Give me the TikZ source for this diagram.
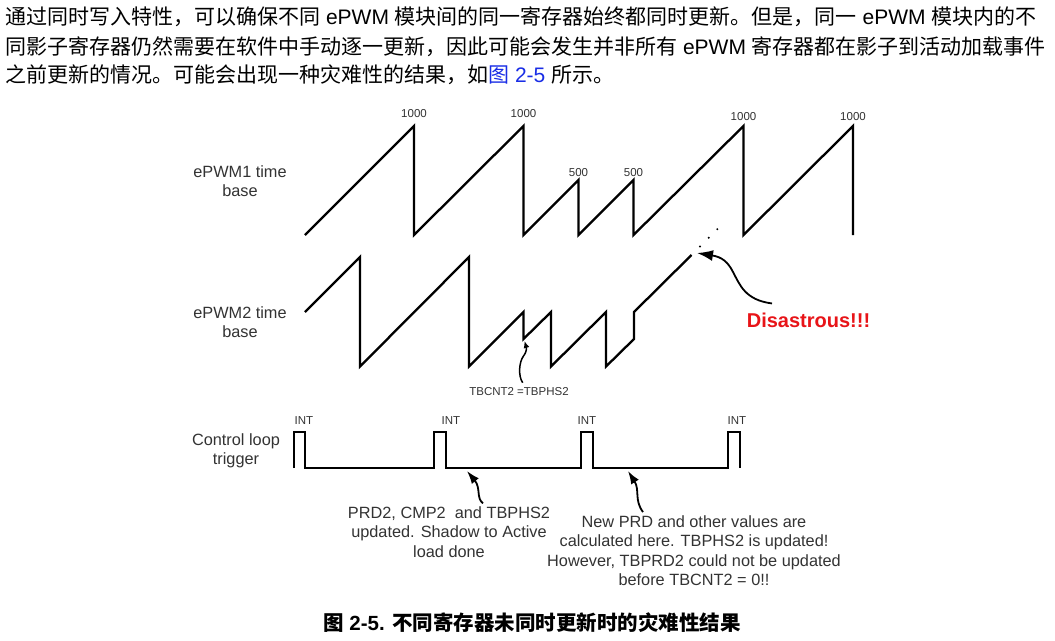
\documentclass[tikz,border=0pt]{standalone}
\usepackage{fontspec}
\setmainfont{Liberation Sans}
\newfontfamily\cjk{Noto Sans CJK SC}
\usetikzlibrary{arrows.meta}
\definecolor{disred}{RGB}{232,20,24}
\definecolor{linkblue}{RGB}{25,45,230}
\begin{document}
\begin{tikzpicture}[x=1pt,y=-1pt,
  body/.style={anchor=west,inner sep=0,font=\fontsize{21}{25}\selectfont},
  wave/.style={line width=2.3pt},
  pulse/.style={line width=2pt},
  lbl/.style={inner sep=0,align=center,font=\fontsize{16.3}{19.5}\selectfont,text=black!80},
  small/.style={inner sep=0,font=\fontsize{11.5}{13}\selectfont,text=black!80},
  arr/.style={line width=1.8pt,-{Latex[length=13pt,width=9pt]}},
  bigarr/.style={line width=1.8pt,-{Latex[length=16pt,width=11pt]}},
  tinyarr/.style={line width=1.5pt,-{Latex[length=7pt,width=6pt]}}]
\useasboundingbox (0,0) rectangle (1055,640);
\fill[white] (0,0) rectangle (1055,640);
% body text
\node[body] (l1) at (5,17) {{\cjk 通过同时写入特性，可以确保不同} ePWM {\cjk 模块间的同一寄存器始终都同时更新。但是，同一} ePWM {\cjk 模块内的不}};
\node[body] (l2) at (5,47) {{\cjk 同影子寄存器仍然需要在软件中手动逐一更新，因此可能会发生并非所有} ePWM {\cjk 寄存器都在影子到活动加载事件}};
\node[body] (l3) at (5,75) {{\cjk 之前更新的情况。可能会出现一种灾难性的结果，如\textcolor{linkblue}{图}} \textcolor{linkblue}{2-5} {\cjk 所示。}};
% ePWM1
\draw[wave] (305,235) -- (414,126) -- (414,235) -- (523.5,126) -- (523.5,235)
  -- (578.5,180) -- (578.5,235) -- (633.5,180) -- (633.5,235)
  -- (743.5,126) -- (743.5,235) -- (853,126) -- (853,235);
\node[small] (p1) at (414,114) {1000};
\node[small] (p2) at (523.5,114) {1000};
\node[small] (p3) at (578.5,173) {500};
\node[small] (p4) at (633.5,173) {500};
\node[small] (p5) at (743.5,117) {1000};
\node[small] (p6) at (853,117) {1000};
% ePWM2
\draw[wave] (305,312) -- (360,257) -- (360,366.5) -- (469,257) -- (469,366.5)
  -- (523.5,312) -- (523.5,339) -- (551,312) -- (551,366.5) -- (606,312)
  -- (606,366.5) -- (634,339) -- (634,312) -- (691.5,255);
\fill (700,246.5) circle (1.1) (708.7,237.8) circle (1.1) (717.3,229.2) circle (1.1);
% control loop
\draw[pulse] (293.5,468) -- (293.5,431.5) -- (305,431.5) -- (305,468) -- (434,468)
  -- (434,431.5) -- (446,431.5) -- (446,468) -- (580.5,468) -- (580.5,431.5)
  -- (593,431.5) -- (593,468) -- (727.5,468) -- (727.5,431.5) -- (740,431.5) -- (740,468);
\node[small] (i1) at (304,421) {INT};
\node[small] (i2) at (451,421) {INT};
\node[small] (i3) at (587,421) {INT};
\node[small] (i4) at (737,421) {INT};
% labels
\node[lbl] (e1) at (240,181) {ePWM1 time\\base};
\node[lbl] (e2) at (240,322) {ePWM2 time\\base};
\node[lbl] (cl) at (236,451) {Control loop\\trigger};
\node[small] (tb) at (519,392) {TBCNT2 =TBPHS2};
\node[inner sep=0,font=\bfseries\fontsize{20}{24}\selectfont,text=disred] (dis) at (808.5,320) {Disastrous!!!};
\node[lbl] (t1) at (449,532) {PRD2, CMP2\ \ and TBPHS2\\updated. Shadow to Active\\load done};
\node[lbl] (t2) at (694,550.5) {New PRD and other values are\\calculated here. TBPHS2 is updated!\\However, TBPRD2 could not be updated\\before TBCNT2 = 0!!};
% arrows
\coordinate (a1) at (467,471);
\coordinate (a2) at (628,471);
\coordinate (a3) at (697,253);
\coordinate (a4) at (524.5,341);
\draw[arr] (t1.north -| 483,0) ++(0,-3) .. controls (476,498) and (481,488) .. (a1);
\draw[arr] (t2.north -| 643,0) ++(0,-3) .. controls (634,500) and (640,490) .. (a2);
\draw[bigarr] (dis.north -| 772,0) ++(0,-9) .. controls (745,300) and (740,285) .. (733,272) .. controls (728,262) and (722,257) .. (a3);
\draw[tinyarr] (tb.north -| 522.7,0) ++(0,-5) .. controls (518,376) and (519,362) .. (523.5,356) .. controls (528,350) and (526,346) .. (a4);
% caption
\node[inner sep=0,font=\fontsize{20.5}{24}\selectfont\bfseries] (cap) at (532,623) {{\cjk 图} 2-5. {\cjk 不同寄存器未同时更新时的灾难性结果}};
\end{tikzpicture}
\end{document}
